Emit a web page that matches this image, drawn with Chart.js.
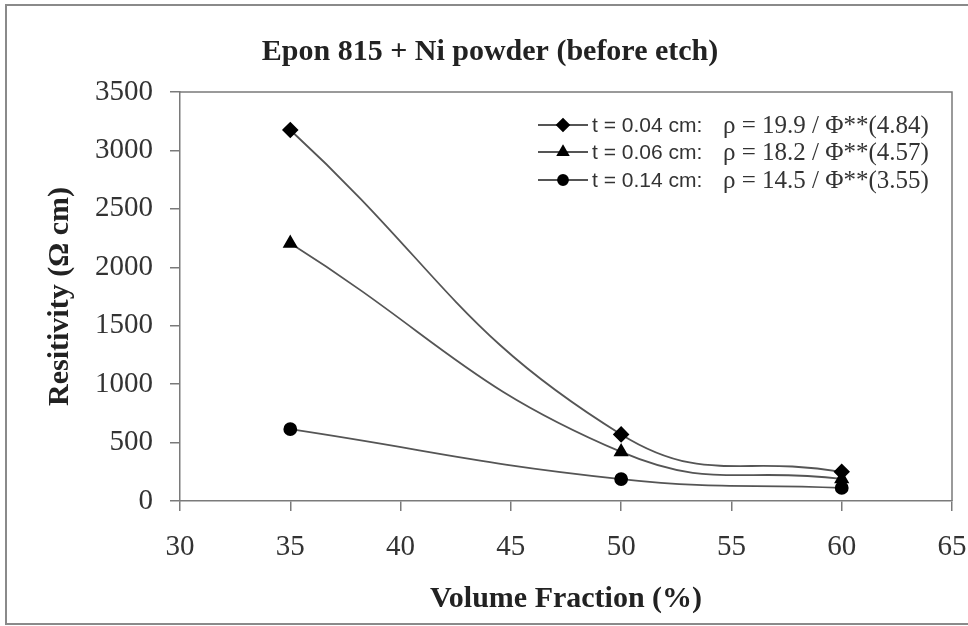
<!DOCTYPE html>
<html>
<head>
<meta charset="utf-8">
<script src="https://cdn.jsdelivr.net/npm/chart.js@4.4.0/dist/chart.umd.min.js"></script>
<style>
    html, body { margin: 0; padding: 0; background: #fff; }
    #wrap { width: 968px; height: 626px; position: relative; }
</style>
</head>
<body>
<div id="wrap"><canvas id="chart"></canvas></div>
<script>
// data
const volumeFraction = [35, 50, 60];
const thin = [3175, 570, 250];      // t = 0.04 cm
const middle = [2205, 420, 190];    // t = 0.06 cm
const thick = [615, 188, 112];      // t = 0.14 cm
const legendLabels = ['t = 0.04 cm:', 't = 0.06 cm:', 't = 0.14 cm:'];
const legendFormulas = ['ρ = 19.9 / Φ**(4.84)', 'ρ = 18.2 / Φ**(4.57)', 'ρ = 14.5 / Φ**(3.55)'];
const chartTitle = 'Epon 815 + Ni powder (before etch)';

const serif = '"Liberation Serif", "Times New Roman", serif';
const sans = '"Liberation Sans", Arial, sans-serif';
const lineGray = '#555';
const axisGray = '#7a7a7a';

function points(ys) {
    return volumeFraction.map((x, i) => ({ x: x, y: ys[i] }));
}

function series(ys, style, r) {
    return {
        data: points(ys),
        borderColor: lineGray,
        borderWidth: 1.8,
        backgroundColor: '#000',
        pointBackgroundColor: '#000',
        pointBorderColor: '#000',
        pointStyle: style,
        pointRadius: r,
        tension: 0.45,
        fill: false
    };
}

// frame, plot box, title and the two-font legend
const decorations = {
    id: 'decorations',
    beforeDraw(chart) {
        const ctx = chart.ctx;
        ctx.save();
        ctx.strokeStyle = '#8a8a8a';
        ctx.lineWidth = 2;
        ctx.beginPath();
        ctx.moveTo(980, 5);
        ctx.lineTo(6, 5);
        ctx.lineTo(6, 624);
        ctx.lineTo(980, 624);
        ctx.stroke();
        ctx.restore();
    },
    afterDraw(chart) {
        const ctx = chart.ctx;
        const a = chart.chartArea;
        ctx.save();
        ctx.strokeStyle = axisGray;
        ctx.lineWidth = 1.5;
        ctx.beginPath();
        ctx.moveTo(a.left, a.top);
        ctx.lineTo(a.right, a.top);
        ctx.lineTo(a.right, a.bottom);
        ctx.stroke();

        ctx.fillStyle = '#222';
        ctx.font = 'bold 30px ' + serif;
        ctx.textAlign = 'center';
        ctx.textBaseline = 'middle';
        ctx.fillText(chartTitle, 490, 52);

        const rows = [125, 152, 180];
        chart.data.datasets.forEach((ds, i) => {
            const y = rows[i];
            ctx.strokeStyle = lineGray;
            ctx.lineWidth = 1.8;
            ctx.beginPath();
            ctx.moveTo(538, y);
            ctx.lineTo(588, y);
            ctx.stroke();
            ctx.fillStyle = '#000';
            ctx.strokeStyle = '#000';
            Chart.helpers.drawPoint(ctx, { pointStyle: ds.pointStyle, radius: ds.pointRadius - 1, rotation: 0, borderWidth: 1 }, 563, y);
            ctx.fillStyle = '#333';
            ctx.textAlign = 'left';
            ctx.font = '21px ' + sans;
            ctx.fillText(legendLabels[i], 592, y + 1);
            ctx.font = '25px ' + serif;
            ctx.fillText(legendFormulas[i], 723, y + 1);
        });
        ctx.restore();
    }
};

new Chart(document.getElementById('chart'), {
    type: 'scatter',
    data: {
        datasets: [
            series(thin, 'rectRot', 7),
            series(middle, 'triangle', 7),
            series(thick, 'circle', 6)
        ]
    },
    options: {
        responsive: true,
        maintainAspectRatio: false,
        animation: false,
        showLine: true,
        layout: { padding: { top: 92, right: 0, left: 0, bottom: 0 } },
        plugins: {
            legend: { display: false },
            tooltip: { enabled: false }
        },
        scales: {
            x: {
                type: 'linear',
                min: 30,
                max: 65,
                afterFit(scale) { scale.height = 125; scale.paddingRight = 16; },
                ticks: { stepSize: 5, color: '#333', font: { family: serif, size: 29 }, padding: 19 },
                grid: { drawOnChartArea: false, color: axisGray, tickLength: 10, lineWidth: 1.5 },
                border: { color: axisGray, width: 1.5 },
                title: {
                    display: true,
                    text: 'Volume Fraction (%)',
                    color: '#222',
                    font: { family: serif, size: 30, weight: 'bold' },
                    padding: { top: 0, bottom: 9 }
                }
            },
            y: {
                min: 0,
                max: 3500,
                afterFit(scale) { scale.width = 180; },
                ticks: {
                    stepSize: 500,
                    color: '#333',
                    font: { family: serif, size: 29 },
                    padding: 17,
                    callback: (v) => String(v)
                },
                grid: { drawOnChartArea: false, color: axisGray, tickLength: 10, lineWidth: 1.5 },
                border: { color: axisGray, width: 1.5 },
                title: {
                    display: true,
                    text: 'Resitivity (Ω cm)',
                    color: '#222',
                    font: { family: serif, size: 30, weight: 'bold' },
                    padding: { top: 42, bottom: 0 }
                }
            }
        }
    },
    plugins: [decorations]
});
</script>
</body>
</html>
